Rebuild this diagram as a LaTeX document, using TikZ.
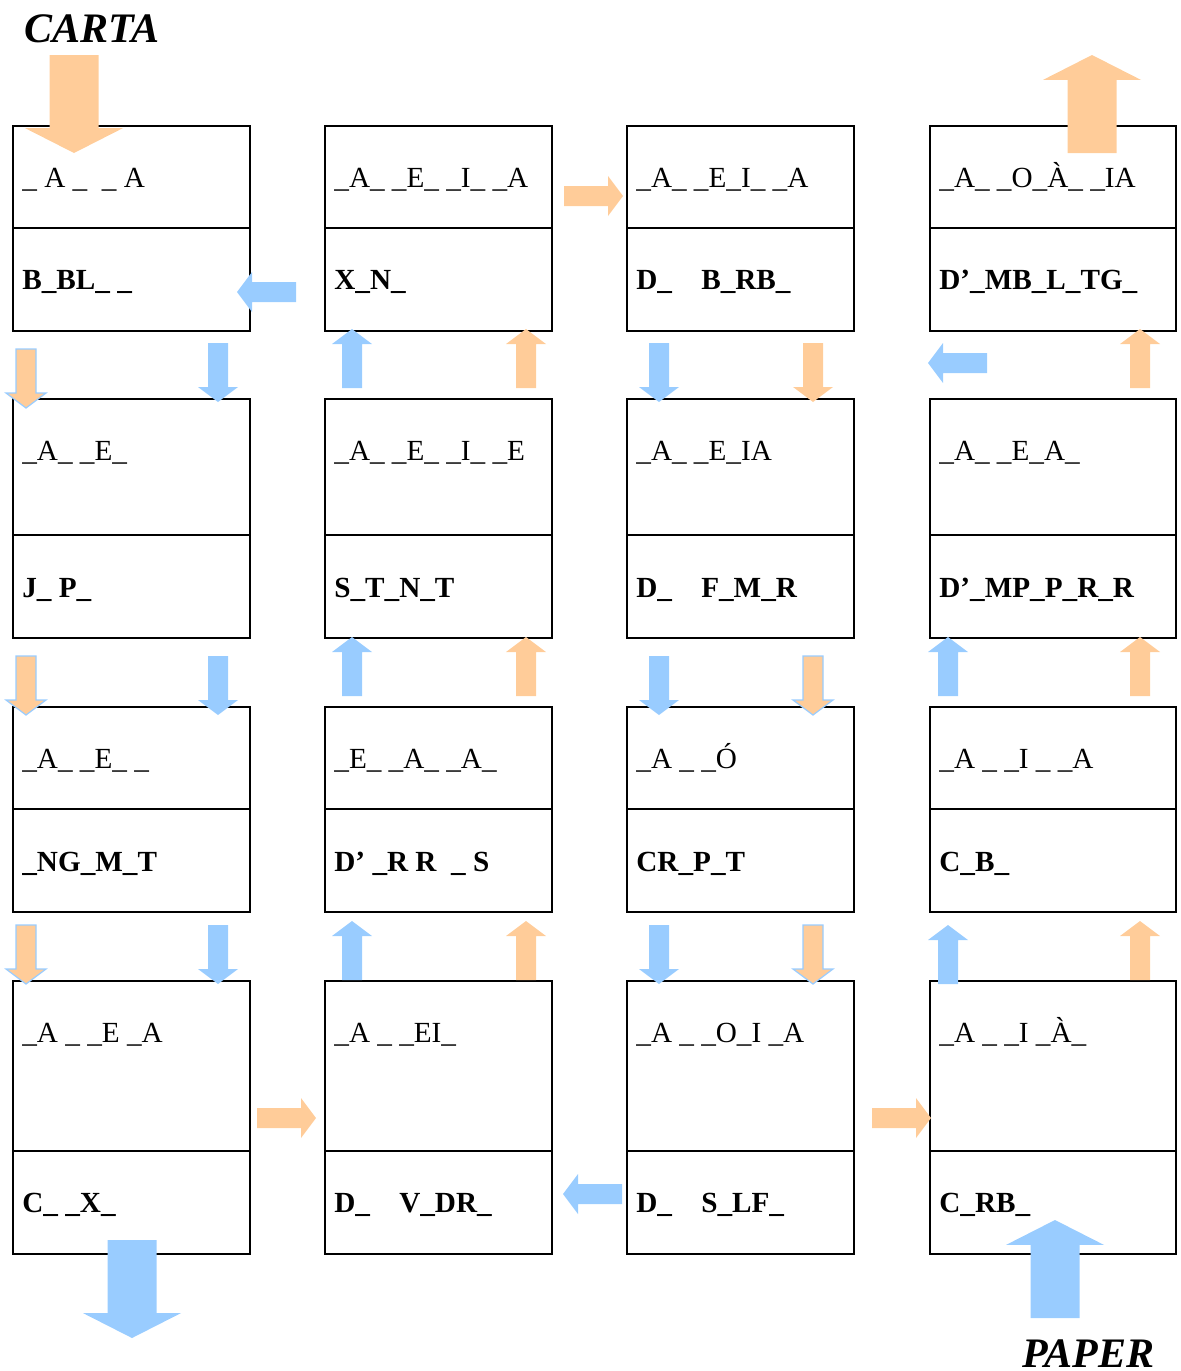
\documentclass[tikz,border=0pt]{standalone}
\usepackage{fontspec}
\setmainfont{Liberation Serif}

% flecha de bloque: [extra], color, cola, angulo
\newcommand{\flecha}[4][]{%
  \fill[#2,shift={(#3)},rotate=#4,#1] (0,-10) -- (44,-10) -- (44,-20) -- (59,0) -- (44,20) -- (44,10) -- (0,10) -- cycle;}

\begin{document}
\begin{tikzpicture}[x=0.5pt,y=-0.5pt]
        %colores
        \definecolor{naranja}{HTML}{FFCC99}
        \definecolor{celeste}{HTML}{99CCFF}
        \tikzset{
          caja/.style={draw=black,line width=1.1pt},
          silaba/.style={anchor=base west,inner sep=0pt,font=\fontsize{14.6}{17}\selectfont},
          palabra/.style={silaba,font=\fontsize{14.6}{17}\selectfont\bfseries},
          titulo/.style={anchor=base west,inner sep=0pt,font=\fontsize{21}{25}\selectfont\bfseries\itshape},
          naranjab/.style={fill=naranja,draw=celeste,line width=0.6pt},
          grande/.style={xscale=1.661,yscale=2.45}
        }
        \useasboundingbox (0,0) rectangle (1180,1371);

        % Cajas
        \foreach \xi/\xd in {13/250,325/552,627/854,930/1176}
          \foreach \ya/\ym/\yb in {126/228/331,399/535/638,707/809/912,981/1151/1254}
            \draw[caja] (\xi,\ya) rectangle (\xd,\yb) (\xi,\ym) -- (\xd,\ym);

        % Fila 1
        \foreach \c/\x/\sil/\pal in {1/22/{\_ A \_\ \ \_ A}/{B\_BL\_ \_},
            2/334/{\_A\_ \_E\_ \_I\_ \_A}/{X\_N\_},
            3/636/{\_A\_ \_E\_I\_ \_A}/{D\_\ \ \ \ B\_RB\_},
            4/939/{\_A\_ \_O\_À\_ \_IA}/{D’\_MB\_L\_TG\_}}
          {\node[silaba] (s1\c) at (\x,187) {\sil};
           \node[palabra] (p1\c) at (\x,289) {\pal};}
        % Fila 2
        \foreach \c/\x/\sil/\pal in {1/22/{\_A\_ \_E\_}/{J\_ P\_},
            2/334/{\_A\_ \_E\_ \_I\_ \_E}/{S\_T\_N\_T},
            3/636/{\_A\_ \_E\_IA}/{D\_\ \ \ \ F\_M\_R},
            4/939/{\_A\_ \_E\_A\_}/{D’\_MP\_P\_R\_R}}
          {\node[silaba] (s2\c) at (\x,460) {\sil};
           \node[palabra] (p2\c) at (\x,597) {\pal};}
        % Fila 3
        \foreach \c/\x/\sil/\pal in {1/22/{\_A\_ \_E\_ \_}/{\_NG\_M\_T},
            2/334/{\_E\_ \_A\_ \_A\_}/{D’ \_R R\ \ \_ S},
            3/636/{\_A \_ \_Ó}/{CR\_P\_T},
            4/939/{\_A \_ \_I \_ \_A}/{C\_B\_}}
          {\node[silaba] (s3\c) at (\x,768) {\sil};
           \node[palabra] (p3\c) at (\x,871) {\pal};}
        % Fila 4
        \foreach \c/\x/\sil/\pal in {1/22/{\_A \_ \_E \_A}/{C\_ \_X\_},
            2/334/{\_A \_ \_EI\_}/{D\_\ \ \ \ V\_DR\_},
            3/636/{\_A \_ \_O\_I \_A}/{D\_\ \ \ \ S\_LF\_},
            4/939/{\_A \_ \_I \_À\_}/{C\_RB\_}}
          {\node[silaba] (s4\c) at (\x,1042) {\sil};
           \node[palabra] (p4\c) at (\x,1212) {\pal};}

        % Flechas pequenas entre filas
        \foreach \e/\x/\y/\a in {naranjab/26/349/-90, celeste/218/343/-90, celeste/352/388/90, naranja/526/388/90,
            celeste/659/343/-90, naranja/813/343/-90, celeste/987/363/180, naranja/1140/388/90,
            naranjab/26/656/-90, celeste/218/656/-90, celeste/352/696/90, naranja/526/696/90,
            celeste/659/656/-90, naranjab/813/656/-90, celeste/948/696/90, naranja/1140/696/90,
            naranjab/26/925/-90, celeste/218/925/-90, celeste/352/980/90, naranja/526/980/90,
            celeste/659/925/-90, naranjab/813/925/-90, celeste/948/984/90, naranja/1140/980/90}
          \flecha{\e}{\x,\y}{\a};
        % Flechas entre columnas
        \foreach \e/\x/\y/\a in {celeste/296/292/180, naranja/564/196/0,
            naranja/257/1118/0, celeste/622/1194/180, naranja/872/1118/0}
          \flecha{\e}{\x,\y}{\a};

        % Entrada y salida
        \flecha[grande]{naranja}{74,55}{-90}
        \flecha[grande]{naranja}{1092,153}{90}
        \flecha[grande]{celeste}{132,1240}{-90}
        \flecha[grande]{celeste}{1055,1318}{90}
        \node[titulo] (carta) at (24,42) {CARTA};
        \node[titulo] (paper) at (1022,1367) {PAPER};
    \end{tikzpicture}
\end{document}
